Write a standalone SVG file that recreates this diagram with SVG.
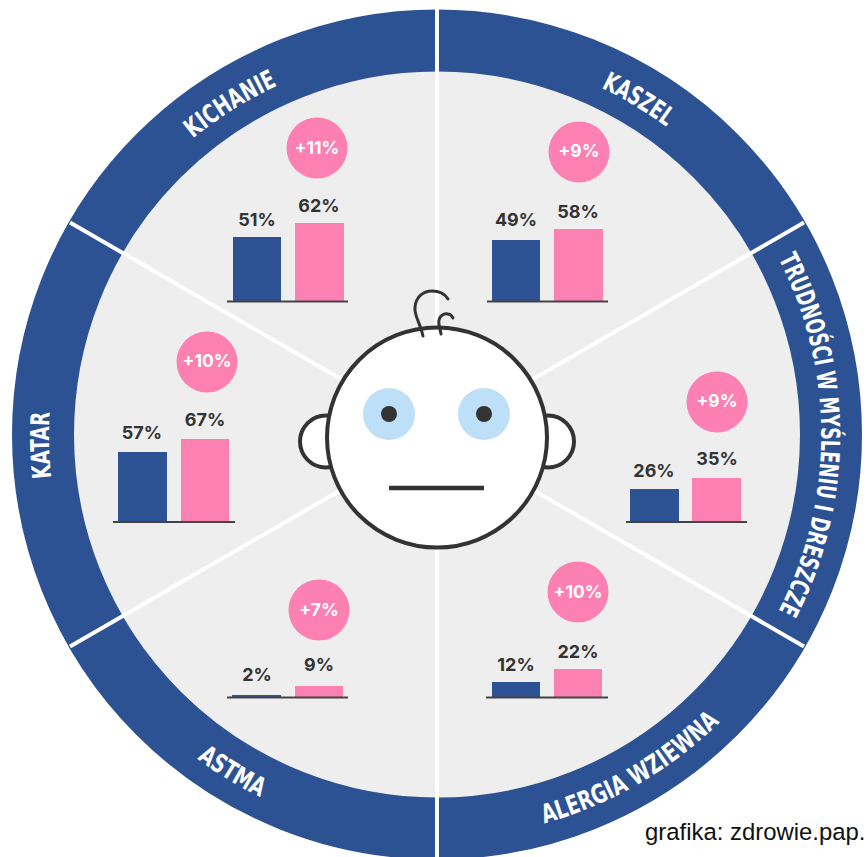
<svg xmlns="http://www.w3.org/2000/svg" width="866" height="857" viewBox="0 0 866 857">
<style>
.band{font-family:"Liberation Sans Narrow","DejaVu Sans Condensed","Liberation Sans",sans-serif;font-weight:700;font-size:26px;fill:#fff;text-anchor:middle}
.val{font-family:Inter,"Liberation Sans",sans-serif;font-weight:700;font-size:18px;fill:#333;text-anchor:middle}
.pct{font-family:Inter,"Liberation Sans",sans-serif;font-weight:700;font-size:17.5px;fill:#fff;text-anchor:middle}
.blue{fill:#2c5294}.pink{fill:#fd80b3}.badge{fill:#fd80b3}
.base{stroke:#444;stroke-width:2;fill:none}
.sep{stroke:#fff;stroke-width:4;fill:none}
.ink{stroke:#333;fill:#fff;stroke-width:4}
.hair{stroke:#333;fill:none;stroke-width:3;stroke-linecap:round}
</style>
<defs>
<path id="pK" d="M58.8 368.3A384 384 0 0 1 542.8 65.9"/>
<path id="pZ" d="M321.5 68.8A384 384 0 0 1 813.3 358.4"/>
<path id="pT" d="M681.3 138.3A384 384 0 0 1 686.4 727"/>
<path id="pA" d="M332.7 824.3A403 403 0 0 0 826.3 539.3"/>
<path id="pS" d="M66 592.5A403 403 0 0 0 458.1 837.4"/>
<path id="pC" d="M146.4 692.1A388 388 0 0 1 133.4 193.5"/>
</defs>
<g id="wheel">
<circle cx="437" cy="434.5" r="394" fill="#eee" stroke="#2c5294" stroke-width="62"/>
</g>
<g id="connectors">
<path class="sep" d="M437 6V863"/>
<path class="sep" d="M804 222.500L70 646.500"/>
<path class="sep" d="M70 222.500L804 646.500"/>
</g>
<g id="kichanie">
<text class="band"><textPath href="#pK" startOffset="50%" textLength="100" lengthAdjust="spacingAndGlyphs">KICHANIE</textPath></text>
<circle class="badge" cx="317" cy="148" r="30.500"/><text class="pct" x="317" y="154">+11%</text>
<rect class="blue" x="233" y="237" width="48" height="64"/><rect class="pink" x="295" y="223" width="49" height="78"/>
<path class="base" d="M227 301.500H348"/>
<text class="val" x="257" y="226">51%</text><text class="val" x="319" y="212">62%</text>
</g>
<g id="kaszel">
<text class="band"><textPath href="#pZ" startOffset="50.5%" textLength="76" lengthAdjust="spacingAndGlyphs">KASZEL</textPath></text>
<circle class="badge" cx="579" cy="152" r="30.500"/><text class="pct" x="579" y="157">+9%</text>
<rect class="blue" x="492" y="240" width="48" height="61"/><rect class="pink" x="554" y="229" width="49" height="72"/>
<path class="base" d="M487 301.500H608"/>
<text class="val" x="516" y="226">49%</text><text class="val" x="578" y="218">58%</text>
</g>
<g id="trudnosci">
<text class="band"><textPath href="#pT" startOffset="50.5%" textLength="366" lengthAdjust="spacingAndGlyphs">TRUDNOŚCI W MYŚLENIU I DRESZCZE</textPath></text>
<circle class="badge" cx="717" cy="402" r="30.500"/><text class="pct" x="717" y="407">+9%</text>
<rect class="blue" x="630" y="489" width="49" height="33"/><rect class="pink" x="692" y="478" width="49" height="44"/>
<path class="base" d="M626 522H747"/>
<text class="val" x="654" y="477">26%</text><text class="val" x="717" y="465">35%</text>
</g>
<g id="alergia">
<text class="band"><textPath href="#pA" startOffset="50%" textLength="205" lengthAdjust="spacingAndGlyphs">ALERGIA WZIEWNA</textPath></text>
<circle class="badge" cx="578" cy="592" r="30.500"/><text class="pct" x="578" y="598">+10%</text>
<rect class="blue" x="492" y="682" width="48" height="15"/><rect class="pink" x="554" y="669" width="48" height="28"/>
<path class="base" d="M486 697.500H608"/>
<text class="val" x="516" y="671">12%</text><text class="val" x="578" y="658">22%</text>
</g>
<g id="astma">
<text class="band"><textPath href="#pS" startOffset="51%" textLength="74" lengthAdjust="spacingAndGlyphs">ASTMA</textPath></text>
<circle class="badge" cx="319" cy="610" r="30.500"/><text class="pct" x="319" y="616">+7%</text>
<rect class="blue" x="232" y="695" width="49" height="2"/><rect class="pink" x="295" y="686" width="48" height="11"/>
<path class="base" d="M227 697.500H348"/>
<text class="val" x="257" y="681">2%</text><text class="val" x="319" y="671">9%</text>
</g>
<g id="katar">
<text class="band"><textPath href="#pC" startOffset="50%" textLength="66" lengthAdjust="spacingAndGlyphs">KATAR</textPath></text>
<circle class="badge" cx="207" cy="362" r="30.500"/><text class="pct" x="207" y="367">+10%</text>
<rect class="blue" x="118" y="452" width="49" height="70"/><rect class="pink" x="181" y="439" width="48" height="83"/>
<path class="base" d="M113 522H235"/>
<text class="val" x="142" y="439">57%</text><text class="val" x="205" y="426">67%</text>
</g>
<g id="face">
<circle class="ink" cx="326" cy="441.500" r="26"/>
<circle class="ink" cx="548" cy="441.500" r="26"/>
<circle class="ink" cx="437" cy="437.500" r="110"/>
<circle cx="389" cy="414" r="26" fill="#bde0f8"/><circle cx="484" cy="414" r="26" fill="#bde0f8"/>
<circle cx="389" cy="414" r="8" fill="#333"/><circle cx="484" cy="414" r="8" fill="#333"/>
<path d="M389 488H484" stroke="#333" stroke-width="4.500" fill="none"/>
<path class="hair" d="M423 336C420 322 414 316 415 307C416 296 424 291 432 291C439 291 445 294 448 299"/>
<path class="hair" d="M441 334C440 328 438 324 439 320C440 315 445 313 448 314C450 314 452 316 453 318"/>
</g>
<text x="645" y="840" font-family="Liberation Sans,Arial,sans-serif" font-size="23.900" fill="#111">grafika: zdrowie.pap.</text>
</svg>
